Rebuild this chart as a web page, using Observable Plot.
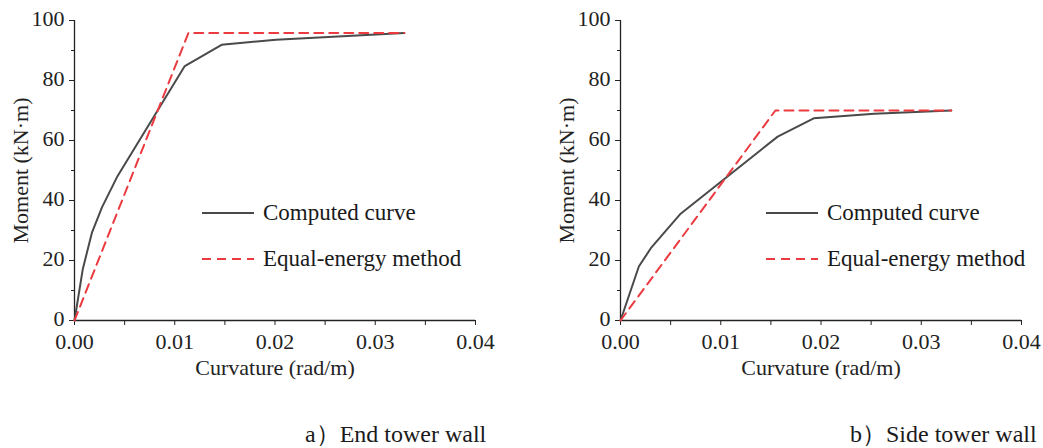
<!DOCTYPE html>
<html>
<head>
<meta charset="utf-8">
<script src="https://cdn.jsdelivr.net/npm/d3@7"></script>
<script src="https://cdn.jsdelivr.net/npm/@observablehq/plot@0.6"></script>
<style>
  html, body { margin: 0; padding: 0; background: #fff; overflow: hidden; }
  #wrap { position: relative; width: 1043px; height: 448px; overflow: hidden; font-family: "Liberation Serif", "Times New Roman", serif; color: #1a1a1a; }
  .panel { position: absolute; top: 0; width: 520px; height: 390px; }
  .panel svg { max-width: none !important; }
  .legend { position: absolute; font-size: 23px; white-space: nowrap; }
  .legend .row { position: absolute; display: flex; align-items: center; }
  .legend svg { margin-right: 9px; }
  .caption { position: absolute; top: 418px; font-size: 24px; white-space: nowrap; }
</style>
</head>
<body>
<div id="wrap"></div>
<script>
// ---- Data ----
const xTicks = [0, 0.01, 0.02, 0.03, 0.04];
const xMinor = [0.005, 0.015, 0.025, 0.035];
const yTicks = [0, 20, 40, 60, 80, 100];
const yMinor = [10, 30, 50, 70, 90];

// a) End tower wall
const endCurvature = [0, 0.00083, 0.00175, 0.00275, 0.00424, 0.0110, 0.01467, 0.0201, 0.0329];
const endMoment    = [0, 17.2, 29.4, 37.8, 47.8, 84.8, 91.9, 93.6, 95.8];
const endEqCurvature = [0, 0.01136, 0.0329];
const endEqMoment    = [0, 95.8, 95.8];

// b) Side tower wall
const sideCurvature = [0, 0.00183, 0.00309, 0.0060, 0.01568, 0.01927, 0.0253, 0.0330];
const sideMoment    = [0, 18.0, 24.4, 35.6, 61.3, 67.4, 68.9, 70.0];
const sideEqCurvature = [0, 0.01545, 0.0330];
const sideEqMoment    = [0, 70.0, 70.0];

const seriesNames = ["Computed curve", "Equal-energy method"];
const captions = ["a）End tower wall", "b）Side tower wall"];
const xLabel = "Curvature (rad/m)";
const yLabel = "Moment (kN·m)";

const computedColor = "#4a4a4a";
const eqColor = "#ec3b40";
const axisColor = "#222";
const FONT = '"Liberation Serif", "Times New Roman", serif';

function toRows(xs, ys) { return xs.map((x, i) => ({x, y: ys[i]})); }

function makePanel(cx, cy, ex, ey) {
  return Plot.plot({
    width: 520,
    height: 390,
    marginLeft: 74,
    marginRight: 45,
    marginTop: 20,
    marginBottom: 70,
    style: { fontFamily: FONT, fontSize: "22px", color: axisColor, background: "transparent", overflow: "visible" },
    x: { domain: [0, 0.04] },
    y: { domain: [0, 100] },
    marks: [
      Plot.axisX({ ticks: xTicks, tickSize: 5, tickPadding: 8, tickFormat: d3.format(".2f"), label: xLabel, labelAnchor: "center", labelArrow: "none", labelOffset: 54, fontSize: 22, stroke: axisColor }),
      Plot.axisX({ ticks: xMinor, tickSize: 5, tickFormat: () => "", label: null, stroke: axisColor }),
      Plot.axisY({ ticks: yTicks, tickSize: 5, tickFormat: () => "", label: yLabel, labelAnchor: "center", labelArrow: "none", labelOffset: 62, fontSize: 22, stroke: axisColor }),
      Plot.axisY({ ticks: yTicks, tickSize: 0, tickPadding: 10, dy: -2, label: null, fontSize: 22 }),
      Plot.axisY({ ticks: yMinor, tickSize: 3, tickFormat: () => "", label: null, stroke: axisColor }),
      Plot.ruleY([0], { stroke: axisColor, strokeWidth: 1.3 }),
      Plot.ruleX([0], { stroke: axisColor, strokeWidth: 1.3 }),
      Plot.line(toRows(cx, cy), { x: "x", y: "y", stroke: computedColor, strokeWidth: 2 }),
      Plot.line(toRows(ex, ey), { x: "x", y: "y", stroke: eqColor, strokeWidth: 2, strokeDasharray: "9,6" })
    ]
  });
}

function legendBlock(left) {
  const div = document.createElement("div");
  div.className = "legend";
  div.style.left = left + "px";
  div.style.top = "0px";
  const rows = [
    { name: seriesNames[0], color: computedColor, dash: null, top: 200 },
    { name: seriesNames[1], color: eqColor, dash: "9,6", top: 246 }
  ];
  rows.forEach(r => {
    const row = document.createElement("div");
    row.className = "row";
    row.style.top = r.top + "px";
    row.style.left = "0px";
    row.innerHTML = `<svg width="52" height="10"><line x1="0" x2="52" y1="5" y2="5" stroke="${r.color}" stroke-width="2" ${r.dash ? `stroke-dasharray="${r.dash}"` : ""}/></svg><span>${r.name}</span>`;
    div.appendChild(row);
  });
  return div;
}

const wrap = document.getElementById("wrap");

const p1 = document.createElement("div");
p1.className = "panel"; p1.style.left = "0px";
p1.appendChild(makePanel(endCurvature, endMoment, endEqCurvature, endEqMoment));
wrap.appendChild(p1);

const p2 = document.createElement("div");
p2.className = "panel"; p2.style.left = "546px";
p2.appendChild(makePanel(sideCurvature, sideMoment, sideEqCurvature, sideEqMoment));
wrap.appendChild(p2);

wrap.appendChild(legendBlock(202));
wrap.appendChild(legendBlock(766));

[305, 850].forEach((left, i) => {
  const c = document.createElement("div");
  c.className = "caption"; c.style.left = left + "px";
  c.textContent = captions[i];
  wrap.appendChild(c);
});
</script>
</body>
</html>
